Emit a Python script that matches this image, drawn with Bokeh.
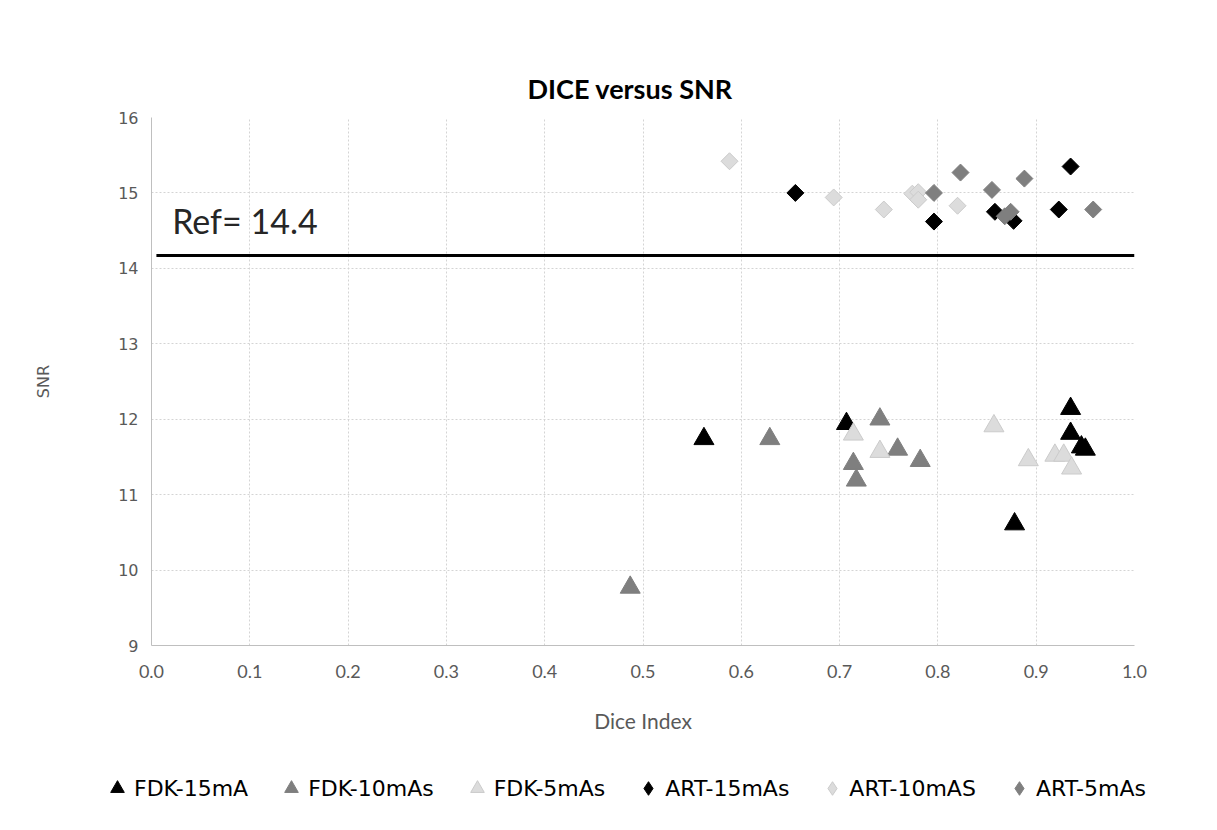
import numpy as np
from bokeh.plotting import figure
from bokeh.layouts import column, row
from bokeh.models import (ColumnDataSource, Legend, LegendItem, FixedTicker,
                          PrintfTickFormatter, Label)
from bokeh.embed import file_html
from bokeh.resources import INLINE

# ---- data ----
fdk15_x = [0.562, 0.707, 0.935, 0.935, 0.946, 0.950, 0.878]
fdk15_y = [11.74, 11.94, 12.14, 11.81, 11.63, 11.60, 10.61]

fdk10_x = [0.487, 0.629, 0.741, 0.714, 0.717, 0.759, 0.782]
fdk10_y = [9.77, 11.74, 12.00, 11.41, 11.19, 11.60, 11.45]

fdk5_x = [0.714, 0.741, 0.857, 0.892, 0.919, 0.928, 0.936]
fdk5_y = [11.80, 11.57, 11.91, 11.46, 11.52, 11.52, 11.35]

art15_x = [0.655, 0.796, 0.858, 0.877, 0.923, 0.935]
art15_y = [15.00, 14.62, 14.75, 14.63, 14.78, 15.35]

art10_x = [0.588, 0.694, 0.745, 0.774, 0.780, 0.780, 0.820]
art10_y = [15.42, 14.94, 14.78, 14.99, 15.01, 14.91, 14.83]

art5_x = [0.796, 0.823, 0.855, 0.868, 0.874, 0.888, 0.958]
art5_y = [15.00, 15.27, 15.04, 14.69, 14.75, 15.19, 14.78]

series_names = ["FDK-15mA", "FDK-10mAs", "FDK-5mAs", "ART-15mAs", "ART-10mAS", "ART-5mAs"]

ref_value = 14.17
ref_label = "Ref= 14.4"

x_ticks = [0.0, 0.1, 0.2, 0.3, 0.4, 0.5, 0.6, 0.7, 0.8, 0.9, 1.0]
y_ticks = [9, 10, 11, 12, 13, 14, 15, 16]

# ---- main figure ----
p = figure(width=1217, height=760, x_range=(0, 1), y_range=(9, 16),
           output_backend="svg", toolbar_location=None,
           min_border_left=151, min_border_right=83,
           min_border_top=117, min_border_bottom=115,
           title="DICE versus SNR")
p.outline_line_color = None
p.background_fill_color = "white"
p.border_fill_color = "white"

p.title.align = "left"
p.title.text_font = "Lato"
p.title.text_font_style = "bold"
p.title.text_font_size = "27px"
p.title.text_color = "#000000"
p.title.offset = 376
p.title.standoff = 26

grey_txt = "#595959"
for ax in (p.xaxis[0], p.yaxis[0]):
    ax.major_tick_in = 0
    ax.major_tick_out = 0
    ax.minor_tick_in = 0
    ax.minor_tick_out = 0
    ax.axis_line_color = "#bfbfbf"
    ax.axis_line_width = 1
    ax.major_label_text_color = grey_txt
    ax.axis_label_text_color = grey_txt
    ax.axis_label_text_font_style = "normal"

p.xaxis.ticker = FixedTicker(ticks=x_ticks)
p.xaxis.formatter = PrintfTickFormatter(format="%.1f")
p.xaxis.major_label_text_font = "Lato"
p.xaxis.major_label_text_font_size = "18px"
p.xaxis.major_label_standoff = 19
p.xaxis.axis_label = "Dice Index"
p.xaxis.axis_label_text_font = "Lato"
p.xaxis.axis_label_text_font_size = "21px"
p.xaxis.axis_label_standoff = 27

p.yaxis.ticker = FixedTicker(ticks=y_ticks)
p.yaxis.major_label_text_font = "DejaVu Sans"
p.yaxis.major_label_text_font_size = "16px"
p.yaxis.major_label_standoff = 13
p.yaxis.axis_label = "SNR"
p.yaxis.axis_label_text_font = "DejaVu Sans"
p.yaxis.axis_label_text_font_size = "16px"
p.yaxis.axis_label_standoff = 62

for g in (p.xgrid[0], p.ygrid[0]):
    g.grid_line_color = "#d4d4d4"
    g.grid_line_dash = "2 2"
    g.grid_line_width = 1
p.xgrid.ticker = FixedTicker(ticks=x_ticks)
p.ygrid.ticker = FixedTicker(ticks=y_ticks)

# reference line
p.line(x=[0.005, 1.0], y=[ref_value, ref_value], line_color="black", line_width=3)
p.add_layout(Label(x=0.021, y=14.63, text=ref_label, text_font="Lato",
                   text_font_size="34px", text_color="#262626",
                   text_baseline="alphabetic"))

black = "#000000"
mid = "#7f7f7f"
light_fill = "#dcdcdc"
light_line = "#cbcbcb"

styles = [
    (fdk15_x, fdk15_y, "triangle", 20, black, black, 0),
    (fdk10_x, fdk10_y, "triangle", 20, mid, mid, 0),
    (fdk5_x, fdk5_y, "triangle", 20, light_fill, light_line, 0),
    (art15_x, art15_y, "square", 12, black, black, np.pi / 4),
    (art10_x, art10_y, "square", 12, light_fill, light_line, np.pi / 4),
    (art5_x, art5_y, "square", 12, mid, mid, np.pi / 4),
]

# ---- legend strip (separate figure below) ----
lg = figure(width=1217, height=70, x_range=(0, 1), y_range=(0, 1),
            output_backend="svg", toolbar_location=None,
            x_axis_location=None, y_axis_location=None,
            min_border_left=0, min_border_right=0,
            min_border_top=0, min_border_bottom=0)
lg.outline_line_color = None
lg.xgrid.visible = False
lg.ygrid.visible = False
lg.border_fill_color = "white"
lg.background_fill_color = "white"

items = []
for name, (xs, ys, marker, size, fc, lc, ang) in zip(series_names, styles):
    src = ColumnDataSource(dict(x=xs, y=ys))
    p.scatter("x", "y", source=src, marker=marker, size=size,
              fill_color=fc, line_color=lc, line_width=1, angle=ang)
    leg_marker = "diamond" if marker == "square" else marker
    r_leg = lg.scatter(x=[np.nan], y=[np.nan], marker=leg_marker, size=size,
                       fill_color=fc, line_color=lc, line_width=1)
    items.append(LegendItem(label=name, renderers=[r_leg]))

legend = Legend(items=items, orientation="horizontal", location=(100, 25))
legend.label_text_font = "DejaVu Sans"
legend.label_text_font_size = "22px"
legend.label_text_color = "#000000"
legend.border_line_color = None
legend.background_fill_alpha = 0
legend.spacing = 26
legend.label_standoff = 0
legend.glyph_width = 34
legend.glyph_height = 34
legend.margin = 0
legend.padding = 0
lg.add_layout(legend, "center")

layout = column(p, row(lg, spacing=0), spacing=0)
open("out.html", "w").write(file_html(layout, INLINE))
